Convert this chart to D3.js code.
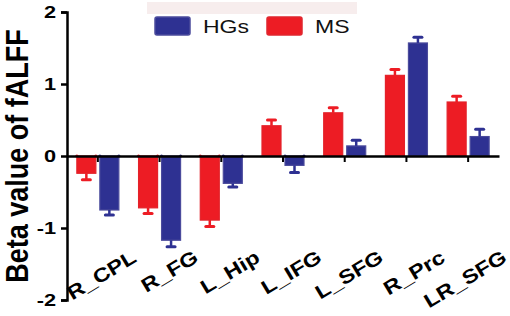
<!DOCTYPE html>
<html>
<head>
<meta charset="utf-8">
<script src="https://d3js.org/d3.v7.min.js"></script>
<style>
  body { margin: 0; background: #fff; }
  text { font-family: "Liberation Sans", Arial, sans-serif; font-weight: bold; }
</style>
</head>
<body>
<div id="chart"></div>
<script>
// data
const regions = ["R_CPL", "R_FG", "L_Hip", "L_IFG", "L_SFG", "R_Prc", "LR_SFG"];
const msMean  = [-0.24, -0.72, -0.89, 0.42, 0.60, 1.12, 0.75];
const msErr   = [0.09, 0.08, 0.09, 0.08, 0.07, 0.08, 0.08];
const hgMean  = [-0.75, -1.17, -0.38, -0.13, 0.14, 1.57, 0.27];
const hgErr   = [0.07, 0.09, 0.05, 0.10, 0.08, 0.08, 0.10];
const yTicks  = [-2, -1, 0, 1, 2];
const seriesNames = ["HGs", "MS"];

const W = 510, H = 316;
const sx = 1.28; // the reference text looks stretched sideways
const svg = d3.select("#chart").append("svg").attr("width", W).attr("height", H);

const x = d3.scaleBand().domain(regions).range([67, 499]);
const y = d3.scaleLinear().domain([-2, 2]).range([300, 12]);

const red = "#ed1c24", blue = "#2e3192";
const barW = 19, gap = 2;

// legend band
svg.append("rect").attr("x", 147).attr("y", 2).attr("width", 210).attr("height", 12)
  .attr("fill", "#f7eded");

const legend = [
  { name: seriesNames[0], color: blue, stroke: "#4b4b9c", x: 155 },
  { name: seriesNames[1], color: red, stroke: "#e0262e", x: 267 }
];
legend.forEach(l => {
  svg.append("rect").attr("x", l.x).attr("y", 17).attr("width", 35).attr("height", 18).attr("rx", 2)
    .attr("fill", l.color).attr("stroke", l.stroke).attr("stroke-width", 1.5);
  svg.append("text").attr("transform", `translate(${l.x + 48},33) scale(${sx},1)`).text(l.name)
    .style("font-weight", "normal").style("font-size", "18px").attr("fill", "#111");
});

function drawSeries(means, errs, color, stroke, offset) {
  const g = svg.append("g");
  regions.forEach((r, i) => {
    const cx = x(r) + x.bandwidth() / 2;
    const x0 = offset < 0 ? cx - gap - barW : cx + gap;
    const v = means[i], e = errs[i];
    const top = y(Math.max(0, v)), bot = y(Math.min(0, v));
    g.append("rect").attr("x", x0).attr("y", top).attr("width", barW).attr("height", bot - top)
      .attr("fill", color).attr("stroke", stroke).attr("stroke-width", 1.2);
    const ve = v >= 0 ? v + e : v - e;
    const bx = x0 + barW / 2;
    g.append("line").attr("x1", bx).attr("x2", bx).attr("y1", y(v)).attr("y2", y(ve))
      .attr("stroke", color).attr("stroke-width", 2.5);
    g.append("line").attr("x1", bx - 4).attr("x2", bx + 4).attr("y1", y(ve)).attr("y2", y(ve))
      .attr("stroke", color).attr("stroke-width", 3).attr("stroke-linecap", "round");
    if (v < 0) {
      [x0, x0 + barW].forEach(px => g.append("circle").attr("cx", px).attr("cy", y(0)).attr("r", 1.6).attr("fill", color));
    }
  });
}
drawSeries(msMean, msErr, red, "#e3222a", -1);
drawSeries(hgMean, hgErr, blue, "#4b4b9c", 1);

// y axis
const yAxis = svg.append("g").attr("transform", "translate(67,0)")
  .call(d3.axisLeft(y).tickValues(yTicks).tickSize(6).tickPadding(2.5).tickFormat(d3.format("d")));
yAxis.select(".domain").attr("stroke", "#000").attr("stroke-width", 2.5);
yAxis.selectAll(".tick line").attr("stroke", "#000").attr("stroke-width", 2.5);
yAxis.selectAll(".tick text").style("font-size", "17px").attr("fill", "#000")
  .attr("transform", `scale(${sx},1)`)
  .text(d => d < 0 ? "-" + Math.abs(d) : d);

// x axis
const xAxis = svg.append("g").attr("transform", `translate(0,${y(0)})`)
  .call(d3.axisBottom(x).tickSize(6).tickSizeOuter(0).tickFormat(""));
xAxis.select(".domain").attr("stroke", "#000").attr("stroke-width", 2.5);
xAxis.selectAll(".tick line").attr("stroke", "#000").attr("stroke-width", 2);

// rotated category labels
svg.append("g").selectAll("text").data(regions).join("text")
  .attr("transform", d => `translate(${x(d) + x.bandwidth() / 2 + 40},261) rotate(-31) scale(1.2,1)`)
  .attr("text-anchor", "end")
  .style("font-size", "19.5px")
  .attr("fill", "#000")
  .text(d => d);

// y label
svg.append("text")
  .attr("transform", `translate(28,156) scale(1.18,1) rotate(-90)`)
  .attr("text-anchor", "middle")
  .style("font-size", "27px")
  .attr("fill", "#000")
  .text("Beta value of fALFF");
</script>
</body>
</html>
